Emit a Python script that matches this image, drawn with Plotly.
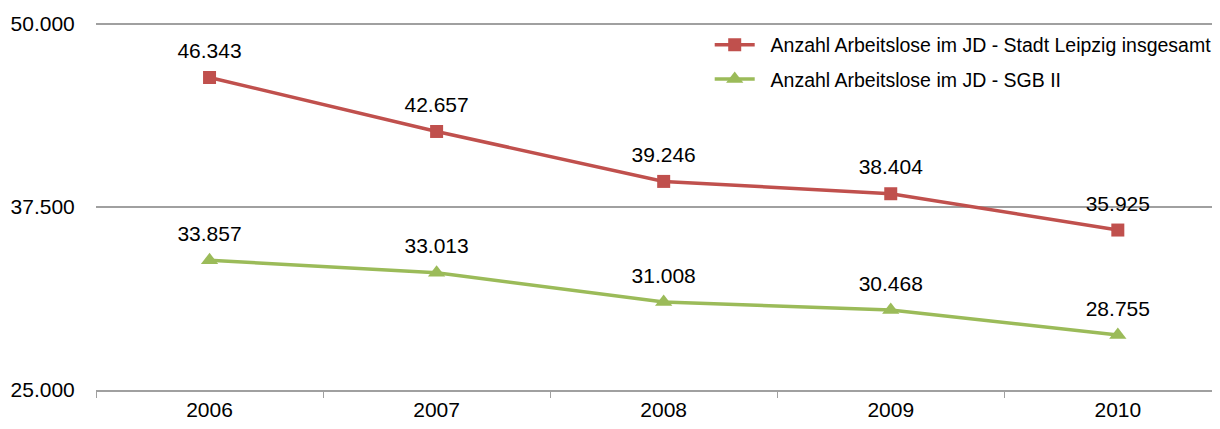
import plotly.graph_objects as go

years = ["2006", "2007", "2008", "2009", "2010"]
leipzig_total = [46343, 42657, 39246, 38404, 35925]
sgb2 = [33857, 33013, 31008, 30468, 28755]
y_ticks = [25000, 37500, 50000]

RED = "#C0504D"
GREEN = "#9BBB59"
FONT = "Liberation Sans, Arial, sans-serif"

fig = go.Figure()
fig.add_trace(go.Scatter(
    x=years, y=leipzig_total, mode="lines+markers",
    name="\u00a0\u00a0Anzahl Arbeitslose im JD - Stadt Leipzig insgesamt",
    legendgroup="a",
    line=dict(color=RED, width=3.5),
    marker=dict(symbol="square", size=13, color=RED),
))
fig.add_trace(go.Scatter(
    x=years, y=sgb2, mode="lines+markers",
    name="\u00a0\u00a0Anzahl Arbeitslose im JD - SGB II",
    legendgroup="b",
    line=dict(color=GREEN, width=3.5),
    marker=dict(symbol="triangle-up", size=15, color=GREEN),
))

# value labels above each point (big invisible marker pushes the text up)
for series in (leipzig_total, sgb2):
    fig.add_trace(go.Scatter(
        x=years, y=series, mode="markers+text", showlegend=False,
        hoverinfo="skip", texttemplate="%{y:,d}", textposition="top center",
        textfont=dict(size=21, color="black", family=FONT),
        marker=dict(size=21, color="rgba(0,0,0,0)"),
    ))

# page body adds 8px margin, so the figure is 8px smaller than the window
fig.update_layout(
    width=1212, height=421,
    margin=dict(l=88, r=0, t=12, b=39, autoexpand=False),
    paper_bgcolor="white", plot_bgcolor="white",
    separators=",.",
    font=dict(family=FONT, size=21, color="black"),
    showlegend=True,
    legend=dict(x=0.546, y=0.985, xanchor="left", yanchor="top",
                bgcolor="rgba(0,0,0,0)", font=dict(size=19.5),
                itemwidth=40, tracegroupgap=6),
    xaxis=dict(range=[-0.5, 4.45], showgrid=False, showline=True,
               linecolor="#A0A0A0", linewidth=1.5, automargin=False,
               ticks="outside", tickson="boundaries", ticklen=6,
               tickcolor="#A0A0A0", tickfont=dict(size=21)),
    yaxis=dict(range=[25000, 50270], tickvals=y_ticks, tickformat=",d",
               showgrid=True, gridcolor="#A0A0A0", gridwidth=1.5,
               zeroline=False, showline=False, automargin=False,
               ticks="outside", ticklen=16, tickcolor="rgba(0,0,0,0)",
               tickfont=dict(size=21)),
)

fig.write_html("out.html")
